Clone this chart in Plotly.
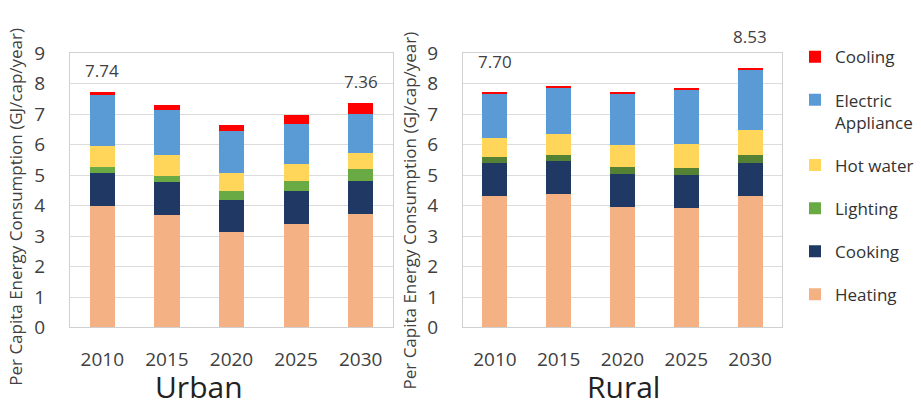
import plotly.graph_objects as go

# Per capita household energy use by end use (GJ/cap/year)
years = ["2010", "2015", "2020", "2025", "2030"]
end_uses = ["Heating", "Cooking", "Lighting", "Hot water", "Electric<br>Appliance", "Cooling"]

urban_heating = [3.99, 3.68, 3.12, 3.41, 3.74]
urban_cooking = [1.07, 1.08, 1.08, 1.08, 1.08]
urban_lighting = [0.20, 0.22, 0.28, 0.32, 0.37]
urban_hot_water = [0.71, 0.67, 0.59, 0.56, 0.54]
urban_electric = [1.66, 1.50, 1.38, 1.32, 1.26]
urban_cooling = [0.11, 0.15, 0.20, 0.27, 0.37]

rural_heating = [4.32, 4.38, 3.96, 3.91, 4.31]
rural_cooking = [1.07, 1.08, 1.08, 1.10, 1.08]
rural_lighting = [0.19, 0.20, 0.23, 0.23, 0.28]
rural_hot_water = [0.64, 0.68, 0.73, 0.77, 0.82]
rural_electric = [1.45, 1.54, 1.67, 1.78, 1.98]
rural_cooling = [0.03, 0.03, 0.04, 0.05, 0.06]

# Totals printed above the first and last bars
urban_labels = {"2010": "7.74", "2030": "7.36"}
rural_labels = {"2010": "7.70", "2030": "8.53"}

y_ticks = list(range(0, 10))

colors = {
    "Heating": "#f4b183",
    "Cooking": "#203864",
    "Lighting": "#6aaa45",
    "Hot water": "#ffd659",
    "Electric<br>Appliance": "#5b9bd5",
    "Cooling": "#ff0000",
}
rural_lighting_color = "#548235"

urban = [urban_heating, urban_cooking, urban_lighting, urban_hot_water, urban_electric, urban_cooling]
rural = [rural_heating, rural_cooking, rural_lighting, rural_hot_water, rural_electric, rural_cooling]

TEXT = "#404040"
FONT = "Open Sans"

fig = go.Figure()

n = len(end_uses)
for i, (name, vals) in enumerate(zip(end_uses, urban)):
    fig.add_trace(go.Bar(
        x=years, y=vals, name=name, legendgroup=name, legendrank=n - i,
        marker=dict(color=colors[name], line=dict(width=0)),
        xaxis="x", yaxis="y", showlegend=True, hoverinfo="skip",
    ))
for name, vals in zip(end_uses, rural):
    c = rural_lighting_color if name == "Lighting" else colors[name]
    fig.add_trace(go.Bar(
        x=years, y=vals, name=name, legendgroup=name,
        marker=dict(color=c, line=dict(width=0)),
        xaxis="x2", yaxis="y2", showlegend=False, hoverinfo="skip",
    ))

def totals(series):
    return [round(sum(v), 2) for v in zip(*series)]

ann = []
for cat, txt in urban_labels.items():
    k = years.index(cat)
    ann.append(dict(x=k, y=totals(urban)[k], xref="x", yref="y", text=txt, showarrow=False,
                    yanchor="bottom", yshift=8, font=dict(size=17, color=TEXT, family=FONT)))
for cat, txt in rural_labels.items():
    k = years.index(cat)
    ann.append(dict(x=k, y=totals(rural)[k], xref="x2", yref="y2", text=txt, showarrow=False,
                    yanchor="bottom", yshift=18, font=dict(size=17, color=TEXT, family=FONT)))

ytitle = "Per Capita Energy Consumption (GJ/cap/year)"
ann.append(dict(x=16 / 921, y=1 - 207 / 406, xref="paper", yref="paper", text=ytitle,
                textangle=-90, showarrow=False, xanchor="center", yanchor="middle",
                font=dict(size=17, color=TEXT, family=FONT)))
ann.append(dict(x=409 / 921, y=1 - 211 / 406, xref="paper", yref="paper", text=ytitle,
                textangle=-90, showarrow=False, xanchor="center", yanchor="middle",
                font=dict(size=17, color=TEXT, family=FONT)))
ann.append(dict(x=199 / 921, y=1 - 399 / 406, xref="paper", yref="paper", text="Urban",
                showarrow=False, xanchor="center", yanchor="middle",
                font=dict(size=30, color="#222222", family=FONT)))
ann.append(dict(x=623 / 921, y=1 - 399 / 406, xref="paper", yref="paper", text="Rural",
                showarrow=False, xanchor="center", yanchor="middle",
                font=dict(size=30, color="#222222", family=FONT)))

axis_common = dict(showline=True, mirror=True, linecolor="#d0d0d0", linewidth=1,
                   tickfont=dict(size=19, color=TEXT, family=FONT))
yax = dict(axis_common, range=[0, 9], tickvals=y_ticks, showgrid=True,
           gridcolor="#dcdcdc", gridwidth=1, zeroline=False,
           ticks="outside", ticklen=20, tickcolor="rgba(0,0,0,0)")
xax = dict(axis_common, type="category", range=[-0.5, 4.5],
           showgrid=False, ticks="outside", ticklen=15, tickcolor="rgba(0,0,0,0)")

ydom = [1 - 336 / 406, 1 - 43 / 406]
fig.update_layout(
    width=921, height=406,
    margin=dict(l=0, r=0, t=0, b=0),
    paper_bgcolor="white", plot_bgcolor="white",
    barmode="stack", bargap=0.61,
    font=dict(family=FONT, color=TEXT),
    xaxis=dict(xax, domain=[70 / 921, 393 / 921], anchor="y"),
    yaxis=dict(yax, domain=ydom, anchor="x"),
    xaxis2=dict(xax, domain=[463 / 921, 782 / 921], anchor="y2"),
    yaxis2=dict(yax, domain=ydom, anchor="x2"),
    legend=dict(x=795 / 921, y=1 - 28 / 406, xanchor="left", yanchor="top",
                traceorder="grouped", tracegroupgap=18, valign="top",
                font=dict(size=17, color="#333333", family=FONT),
                itemwidth=30, bgcolor="rgba(0,0,0,0)"),
    annotations=ann,
    showlegend=True,
)

fig.write_html("out.html")
